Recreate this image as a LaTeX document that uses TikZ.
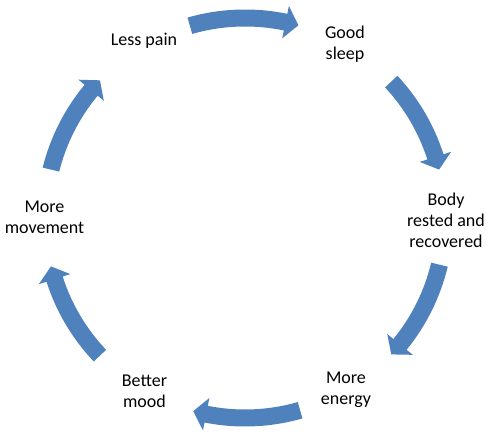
\documentclass[tikz,border=0pt]{standalone}
\usepackage{fontspec}
\setmainfont{Carlito}
\definecolor{arrowblue}{HTML}{4F81BD}
\tikzset{
  cyclearrow/.style={fill=arrowblue, draw=none},
  steplabel/.style={align=center, inner sep=0pt, text=black, font=\fontsize{18}{21}\selectfont}
}
% #1 start angle (tail), #2 end angle (tip), clockwise
\newcommand\cyclearrowpath[2]{%
  \fill[cyclearrow] (#1:208.5pt) arc[start angle=#1, end angle=#2+3.8, radius=208.5pt]
    -- (#2+3.8:216.5pt) -- (#2:200pt) -- (#2+3.8:183.5pt) -- (#2+3.8:191.5pt)
    arc[start angle=#2+3.8, end angle=#1, radius=191.5pt] -- cycle;}
\begin{document}
\begin{tikzpicture}[x=1pt,y=1pt]
\useasboundingbox (0,0) rectangle (492,435);
\begin{scope}[shift={(245,217)}]
  \cyclearrowpath{106}{74.5}
  \cyclearrowpath{43}{14}
  \cyclearrowpath{-13.5}{-43}
  \cyclearrowpath{-74}{-105}
  \cyclearrowpath{-136.5}{-166}
  \cyclearrowpath{166}{136.5}
\end{scope}
\node[steplabel] (goodsleep) at (345,391) {Good\\sleep};
\node[steplabel] (body) at (446,214.5) {Body\\rested and\\recovered};
\node[steplabel] (energy) at (346,45.5) {More\\energy};
\node[steplabel] (mood) at (144.5,43.5) {Better\\mood};
\node[steplabel] (movement) at (44.5,218) {More\\movement};
\node[steplabel] (pain) at (144,394.5) {Less pain};
\end{tikzpicture}
\end{document}
